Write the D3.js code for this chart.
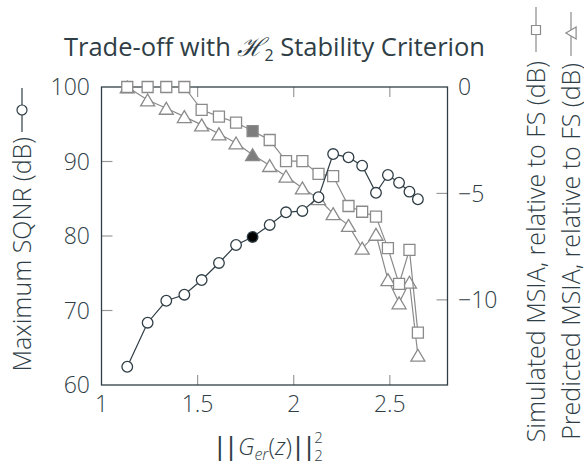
<!DOCTYPE html>
<html>
<head>
<meta charset="utf-8">
<script src="https://cdn.jsdelivr.net/npm/d3@7"></script>
<style>
  body { margin: 0; background: #fff; }
  text { font-family: "Open Sans", "Noto Sans", sans-serif; fill: #2f3e46; }
  .bar { font-family: "DejaVu Sans", sans-serif; font-weight: 400; fill: #2f3e46; letter-spacing: 3px; }
</style>
</head>
<body>
<div id="chart"></div>
<script>
// values
var gNorm = [1.134, 1.240, 1.337, 1.431, 1.521, 1.611, 1.700, 1.786, 1.875, 1.960,
             2.045, 2.129, 2.205, 2.285, 2.356, 2.428, 2.490, 2.548, 2.602, 2.646];
var sqnr = [62.45, 68.36, 71.31, 72.12, 74.09, 76.38, 78.79, 79.87, 81.48, 83.18,
            83.36, 85.2, 91.0, 90.56, 89.44, 85.8, 88.19, 87.15, 85.95, 84.93];
var msiaSim = [0, 0, 0, 0, -1.07, -1.39, -1.67, -2.07, -2.49, -3.48,
               -3.48, -4.08, -4.19, -5.59, -5.86, -6.09, -7.57, -9.25, -7.65, -11.54];
var msiaPred = [0, -0.61, -1.00, -1.39, -1.78, -2.20, -2.63, -3.18, -3.69, -4.19,
                -4.74, -5.25, -5.95, -6.50, -7.57, -6.92, -9.05, -10.14, -9.17, -12.60];
var chosen = 7; // filled marker
var xTicks = [1, 1.5, 2, 2.5];
var leftTicks = [60, 70, 80, 90, 100];
var rightTicks = [0, -5, -10];

var width = 584, height = 462;
var pL = 101.5, pR = 447.5, pT = 87, pB = 385;
var dark = "#2f3e46", grey = "#8a8a8a";

var x = d3.scaleLinear().domain([1, 2.8]).range([pL, pR]);
var yL = d3.scaleLinear().domain([60, 100]).range([pB, pT]);
var yR = d3.scaleLinear().domain([-14, 0]).range([pB, pT]);

var svg = d3.select("#chart").append("svg")
  .attr("width", width).attr("height", height);

// inner ticks
var tk = svg.append("g").attr("stroke", "#9a9a9a").attr("stroke-width", 1.2);
xTicks.slice(1).forEach(function(t){
  tk.append("line").attr("x1", x(t)).attr("x2", x(t)).attr("y1", pB).attr("y2", pB - 10);
  tk.append("line").attr("x1", x(t)).attr("x2", x(t)).attr("y1", pT).attr("y2", pT + 10);
});
leftTicks.slice(1, -1).forEach(function(t){
  tk.append("line").attr("x1", pL).attr("x2", pL + 11).attr("y1", yL(t)).attr("y2", yL(t));
});
rightTicks.slice(1).forEach(function(t){
  tk.append("line").attr("x1", pR).attr("x2", pR - 11).attr("y1", yR(t)).attr("y2", yR(t));
});

// frame
svg.append("rect")
  .attr("x", pL).attr("y", pT)
  .attr("width", pR - pL).attr("height", pB - pT)
  .attr("fill", "none").attr("stroke", dark).attr("stroke-width", 1.3);

// tick labels
svg.selectAll(".xt").data(xTicks).enter().append("text")
  .attr("x", function(d){ return x(d); }).attr("y", 412)
  .attr("text-anchor", "middle").style("font-size", "23px").style("font-weight", 300)
  .text(function(d){ return d; });
svg.selectAll(".yl").data(leftTicks).enter().append("text")
  .attr("x", 90).attr("y", function(d){ return yL(d); })
  .attr("dy", "0.36em").attr("text-anchor", "end").style("font-size", "23px").style("font-weight", 300)
  .text(function(d){ return d; });
svg.selectAll(".yr").data(rightTicks).enter().append("text")
  .attr("x", 458).attr("y", function(d){ return yR(d); })
  .attr("dy", "0.36em").style("font-size", "23px").style("font-weight", 300)
  .text(function(d){ return d < 0 ? "\u2212" + (-d) : d; });

// series
var tri = function(s){ var h = s * 0.85; return "M0," + (-h/2) + "L" + (s/2) + "," + (h/2) + "L" + (-s/2) + "," + (h/2) + "Z"; };
var sq = function(s){ return "M" + (-s/2) + "," + (-s/2) + "h" + s + "v" + s + "h" + (-s) + "Z"; };

function series(vals, yScale, colour, fillSel, marker) {
  var pts = gNorm.map(function(g, i){ return [x(g), yScale(vals[i])]; });
  svg.append("path")
    .attr("d", d3.line()(pts))
    .attr("fill", "none").attr("stroke", colour).attr("stroke-width", 1.2);
  var m = svg.append("g").selectAll("g").data(pts).enter().append("g")
    .attr("transform", function(d){ return "translate(" + d[0] + "," + d[1] + ")"; });
  marker(m)
    .attr("fill", function(d, i){ return i === chosen ? fillSel : "#fff"; })
    .attr("stroke", colour).attr("stroke-width", 1.3);
}

series(msiaPred, yR, grey, "#7d7d7d", function(m){ return m.append("path").attr("d", tri(14)); });
series(msiaSim, yR, grey, "#7d7d7d", function(m){ return m.append("path").attr("d", sq(11)); });
series(sqnr, yL, dark, "#000", function(m){ return m.append("circle").attr("r", 5.3); });

// title
var title = svg.append("text")
  .attr("x", 274.5).attr("y", 56)
  .attr("text-anchor", "middle").style("font-size", "25.5px");
title.append("tspan").text("Trade-off with ");
title.append("tspan").style("font-family", "'DejaVu Serif', serif").style("font-style", "italic").text("\u210B");
title.append("tspan").style("font-size", "16px").attr("dy", 5).text("2");
title.append("tspan").attr("dy", -5).text(" Stability Criterion");

// left axis label with legend
svg.append("text")
  .attr("transform", "translate(31,137) rotate(-90)")
  .attr("text-anchor", "end")
  .style("font-size", "25px").style("font-weight", 300).text("Maximum SQNR (dB)");
svg.append("line").attr("x1", 22).attr("x2", 22).attr("y1", 88).attr("y2", 132)
  .attr("stroke", dark).attr("stroke-width", 1.2);
svg.append("circle").attr("cx", 22).attr("cy", 110).attr("r", 5)
  .attr("fill", "#fff").attr("stroke", dark).attr("stroke-width", 1.2);

// right axis labels with legends
var rLabels = [
  {text: "Simulated MSIA, relative to FS (dB)", cx: 536, end: 61, y1: 7, y2: 52, my: 30, mark: "sq"},
  {text: "Predicted MSIA, relative to FS (dB)", cx: 571, end: 63, y1: 12, y2: 56, my: 33, mark: "tri"}
];
rLabels.forEach(function(r){
  svg.append("text")
    .attr("transform", "translate(" + (r.cx + 9) + "," + r.end + ") rotate(-90)")
    .attr("text-anchor", "end").style("font-size", "25px").style("font-weight", 300)
    .text(r.text);
  svg.append("line").attr("x1", r.cx).attr("x2", r.cx).attr("y1", r.y1).attr("y2", r.y2)
    .attr("stroke", grey).attr("stroke-width", 1.2);
  var p = svg.append("path")
    .attr("fill", "#fff").attr("stroke", grey).attr("stroke-width", 1.2);
  if (r.mark === "sq") p.attr("d", sq(9)).attr("transform", "translate(" + r.cx + "," + r.my + ")");
  else p.attr("d", tri(12)).attr("transform", "translate(" + r.cx + "," + r.my + ") rotate(-90)");
});

// x label
var xl = svg.append("text").attr("y", 455).style("font-size", "24px").style("font-weight", 300);
xl.append("tspan").attr("class", "bar").text("||");
xl.append("tspan").style("font-style", "italic").text("G");
xl.append("tspan").style("font-style", "italic").style("font-size", "16px").attr("dy", 5).text("er");
xl.append("tspan").attr("dy", -5).text("(");
xl.append("tspan").style("font-style", "italic").text("z");
xl.append("tspan").text(")");
xl.append("tspan").attr("class", "bar").attr("dx", 2).text("||");
var len = xl.node().getComputedTextLength();
var x0 = 269 - (len + 8) / 2;
xl.attr("x", x0);
svg.append("text").attr("x", x0 + len + 0).attr("y", 443).style("font-size", "15px").style("font-weight", 300).text("2");
svg.append("text").attr("x", x0 + len + 0).attr("y", 461).style("font-size", "15px").style("font-weight", 300).text("2");
</script>
</body>
</html>
